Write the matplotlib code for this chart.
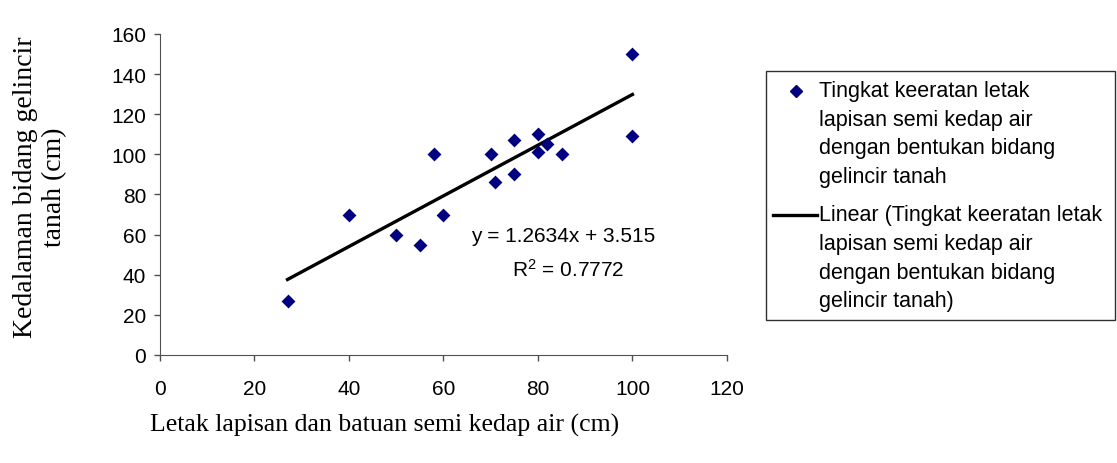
import matplotlib.pyplot as plt
from matplotlib.lines import Line2D
from matplotlib.patches import Rectangle

plt.rcParams['font.family'] = 'Liberation Sans'

# data
letak = [27, 40, 50, 55, 58, 60, 70, 71, 75, 75, 80, 80, 82, 85, 100, 100]
kedalaman = [27, 70, 60, 55, 100, 70, 100, 86, 107, 90, 110, 101, 105, 100, 150, 109]
slope = 1.2634
intercept = 3.515
r2 = 0.7772
xticks = [0, 20, 40, 60, 80, 100, 120]
yticks = [0, 20, 40, 60, 80, 100, 120, 140, 160]
legend_labels = ['Tingkat keeratan letak\nlapisan semi kedap air\ndengan bentukan bidang\ngelincir tanah',
                 'Linear (Tingkat keeratan letak\nlapisan semi kedap air\ndengan bentukan bidang\ngelincir tanah)']

W, H = 1117, 464
fig = plt.figure(figsize=(W / 100, H / 100), dpi=100)
ax = fig.add_axes([0.1432, 0.2328, 0.5076, 0.6918])

ax.scatter(letak, kedalaman, marker='D', s=50, color='#000080', zorder=3, linewidths=0)
xl = [min(letak), max(letak)]
ax.plot(xl, [slope * v + intercept for v in xl], color='black', lw=2.4)

ax.set_xlim(0, 120)
ax.set_ylim(0, 160)
ax.set_xticks(xticks)
ax.set_yticks(yticks)
ax.tick_params(direction='out', length=4, width=1, labelsize=15, color='#505050')
ax.tick_params(axis='x', pad=13)
ax.tick_params(axis='y', pad=6)
for s in ['top', 'right']:
    ax.spines[s].set_visible(False)
for s in ['left', 'bottom']:
    ax.spines[s].set_color('#505050')

ax.text(85.3, 59.8, 'y = %.4fx + %.3f' % (slope, intercept), ha='center', va='center', fontsize=15)
ax.text(86.3, 42.9, '$\\mathregular{R^2}$ = %.4f' % r2, ha='center', va='center', fontsize=15)

fig.text(385 / W, 1 - 425 / H, 'Letak lapisan dan batuan semi kedap air (cm)',
         family='Liberation Serif', fontsize=18.5, ha='center', va='center')
fig.text(40 / W, 1 - 187 / H, 'Kedalaman bidang gelincir\ntanah (cm)',
         family='Liberation Serif', fontsize=20, ha='center', va='center',
         rotation=90, linespacing=1.2, multialignment='center')

# legend box drawn by hand so the keys sit on the first text line
fig.patches.append(Rectangle((766 / W, 1 - 321 / H), (1115 - 766) / W, (321 - 72) / H,
                             transform=fig.transFigure, fill=False, edgecolor='#303030', lw=1.0))
fig.add_artist(Line2D([796 / W], [1 - 92 / H], marker='D', ls='none', color='#000080',
                      markersize=6.5, transform=fig.transFigure))
fig.add_artist(Line2D([773 / W, 817 / W], [1 - 216 / H, 1 - 216 / H], color='black', lw=2.4,
                      transform=fig.transFigure))
for lab, y0 in zip(legend_labels, [92, 216]):
    for i, line in enumerate(lab.split('\n')):
        fig.text(819 / W, 1 - (y0 + i * 28.5) / H, line, fontsize=15.5, ha='left', va='center')

fig.savefig('out.png', dpi=100)
